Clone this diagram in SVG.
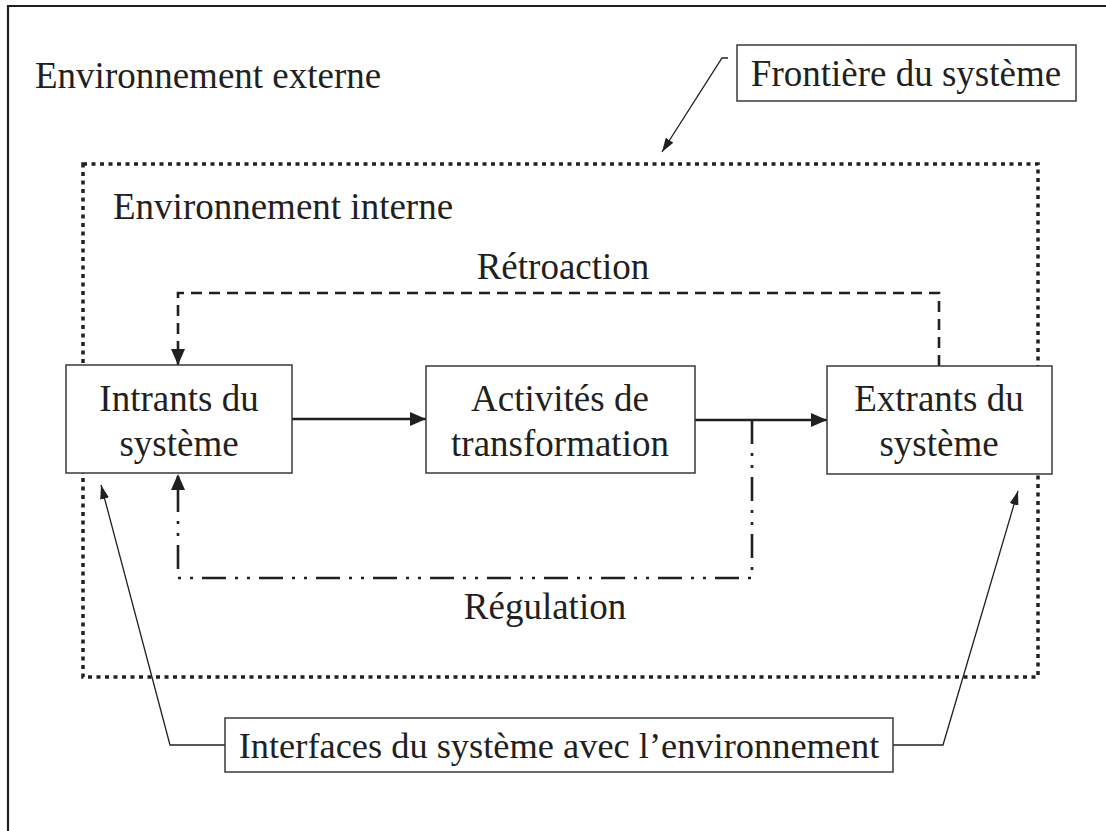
<svg xmlns="http://www.w3.org/2000/svg" width="1106" height="831" viewBox="0 0 1106 831">
  <defs>
    <marker id="arrow" viewBox="0 0 16 14" refX="16" refY="7" markerWidth="16" markerHeight="14" markerUnits="userSpaceOnUse" orient="auto">
      <path d="M0,0 L16,7 L0,14 Z" fill="#231f20"/>
    </marker>
    <marker id="arrow-thin" viewBox="0 0 14 9" refX="14" refY="4.5" markerWidth="14" markerHeight="9" markerUnits="userSpaceOnUse" orient="auto">
      <path d="M0,0 L14,4.5 L0,9 Z" fill="#231f20"/>
    </marker>
    <style>
      .lbl { font-family: "Liberation Serif", "Times New Roman", serif; font-size: 37px; fill: #231f20; }
      .mid { text-anchor: middle; }
      .wide { font-size: 36.4px; }
      .box { fill: #ffffff; stroke: #3a3a3a; stroke-width: 1.5; }
      .frame { fill: none; stroke: #231f20; stroke-width: 2.2; }
      .boundary { fill: none; stroke: #231f20; stroke-width: 3.5; stroke-dasharray: 4 4.5; }
      .flow { fill: none; stroke: #231f20; stroke-width: 2.6; }
      .feedback { fill: none; stroke: #231f20; stroke-width: 2.6; stroke-dasharray: 11 7; }
      .regulation { fill: none; stroke: #231f20; stroke-width: 2.6; stroke-dasharray: 24 9 3 9 3 9; }
      .leader { fill: none; stroke: #231f20; stroke-width: 1.3; }
    </style>
  </defs>

  <rect width="1106" height="831" fill="#ffffff"/>

  <!-- page frame: open on the right and bottom -->
  <path class="frame" d="M8,840 L8,6 L1110,6"/>

  <!-- system boundary -->
  <g id="system-boundary">
    <rect class="boundary" x="83" y="164" width="955" height="513"/>
  </g>

  <g id="label-external">
    <text class="lbl" x="35" y="88">Environnement externe</text>
  </g>
  <g id="label-internal">
    <text class="lbl" x="113" y="219">Environnement interne</text>
  </g>
  <g id="label-feedback">
    <text class="lbl mid" x="563" y="279">Rétroaction</text>
  </g>
  <g id="label-regulation">
    <text class="lbl mid" x="545" y="619">Régulation</text>
  </g>

  <!-- connectors -->
  <g id="connectors">
    <path class="flow" d="M292,419 L426,419" marker-end="url(#arrow)"/>
    <path class="flow" d="M695,420 L827,420" marker-end="url(#arrow)"/>
    <path class="feedback" d="M939,366 L939,293 L178,293 L178,365" marker-end="url(#arrow)"/>
    <path class="regulation" d="M752,420 L752,578 L178,578 L178,474" marker-end="url(#arrow)"/>
    <path class="leader" d="M728,58 L722,58 L662,152" marker-end="url(#arrow-thin)"/>
    <path class="leader" d="M225,745 L170,745 L101,485" marker-end="url(#arrow-thin)"/>
    <path class="leader" d="M893,745 L943,745 L1018,491" marker-end="url(#arrow-thin)"/>
  </g>

  <g id="node-inputs">
    <rect class="box" x="66" y="365" width="226" height="108"/>
    <text class="lbl mid" x="179" y="411">Intrants du</text>
    <text class="lbl mid" x="179" y="456">système</text>
  </g>
  <g id="node-transformation">
    <rect class="box" x="426" y="366" width="269" height="107"/>
    <text class="lbl mid" x="560" y="411">Activités de</text>
    <text class="lbl mid" x="560" y="456">transformation</text>
  </g>
  <g id="node-outputs">
    <rect class="box" x="827" y="366" width="225" height="108"/>
    <text class="lbl mid" x="939" y="411">Extrants du</text>
    <text class="lbl mid" x="939" y="456">système</text>
  </g>
  <g id="node-boundary-label">
    <rect class="box" x="737" y="45" width="339" height="56"/>
    <text class="lbl mid" x="906" y="86">Frontière du système</text>
  </g>
  <g id="node-interfaces">
    <rect class="box" x="225" y="718" width="668" height="54"/>
    <text class="lbl mid wide" x="559" y="758">Interfaces du système avec l’environnement</text>
  </g>
</svg>
